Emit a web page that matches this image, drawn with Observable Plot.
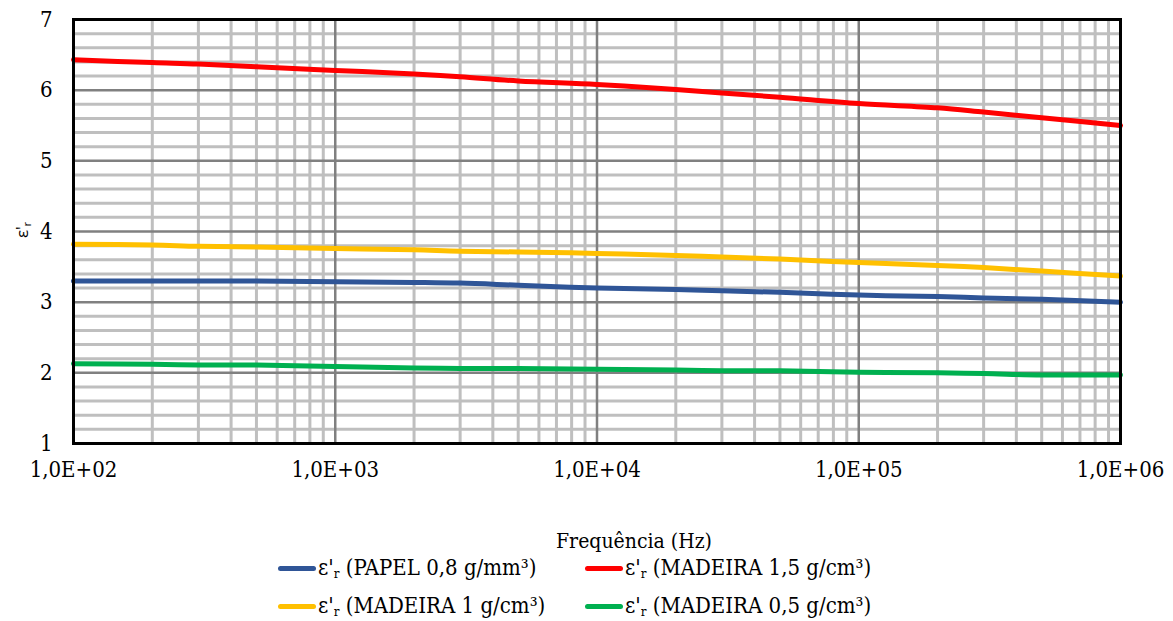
<!DOCTYPE html>
<html>
<head>
<meta charset="utf-8">
<script src="https://cdn.jsdelivr.net/npm/d3@7"></script>
<script src="https://cdn.jsdelivr.net/npm/@observablehq/plot@0.6"></script>
<style>
  html, body { margin: 0; padding: 0; background: #fff; }
  #wrap { position: relative; width: 1173px; height: 621px; font-family: "DejaVu Serif Condensed", "DejaVu Serif", serif; font-stretch: condensed; color: #000; }
  #chart { position: absolute; left: 0; top: 0; }
  #chart svg text { font-stretch: condensed; }
  .abs { position: absolute; white-space: nowrap; }
  .leg { position: absolute; display: flex; align-items: center; font-size: 22px; white-space: nowrap; height: 30px; }
  .sw { display: inline-block; width: 38px; height: 5px; border-radius: 3px; margin-right: 2px; }
  sub { font-size: 60%; vertical-align: -0.25em; }
</style>
</head>
<body>
<div id="wrap">
  <div id="chart"></div>
</div>
<script>
// ---- data ----
const freqs = [1e2, 2e2, 3e2, 5e2, 1e3, 2e3, 3e3, 5e3, 1e4, 2e4, 3e4, 5e4, 1e5, 2e5, 3e5, 5e5, 1e6];
const papel08  = [3.30, 3.30, 3.30, 3.30, 3.29, 3.28, 3.27, 3.24, 3.20, 3.18, 3.16, 3.14, 3.10, 3.08, 3.06, 3.04, 3.00];
const madeira15 = [6.43, 6.39, 6.37, 6.33, 6.28, 6.23, 6.19, 6.13, 6.08, 6.01, 5.96, 5.90, 5.81, 5.75, 5.69, 5.61, 5.50];
const madeira1  = [3.82, 3.81, 3.79, 3.78, 3.76, 3.74, 3.72, 3.71, 3.69, 3.66, 3.64, 3.61, 3.56, 3.52, 3.49, 3.44, 3.37];
const madeira05 = [2.13, 2.12, 2.11, 2.11, 2.09, 2.07, 2.06, 2.06, 2.05, 2.04, 2.03, 2.03, 2.01, 2.00, 1.99, 1.97, 1.97];

const seriesNames = ["PAPEL 0,8 g/mm³", "MADEIRA 1,5 g/cm³", "MADEIRA 1 g/cm³", "MADEIRA 0,5 g/cm³"];
const seriesColors = ["#2F5597", "#FF0000", "#FFC000", "#00B050"];
const seriesValues = [papel08, madeira15, madeira1, madeira05];

const xTicks = [1e2, 1e3, 1e4, 1e5, 1e6];
const yTicks = [1, 2, 3, 4, 5, 6, 7];
const yMinor = [1.2,1.4,1.6,1.8,2.2,2.4,2.6,2.8,3.2,3.4,3.6,3.8,4.2,4.4,4.6,4.8,5.2,5.4,5.6,5.8,6.2,6.4,6.6,6.8];
const xMinorMult = [2, 3, 4, 5, 6, 7, 8, 9];
const xMinor = [1e2, 1e3, 1e4, 1e5].flatMap(d => xMinorMult.map(m => d * m));

const xTitle = "Frequência (Hz)";

// ---- table ----
const rows = [];
seriesNames.forEach((name, i) => {
  freqs.forEach((f, j) => rows.push({ series: name, f, v: seriesValues[i][j] }));
});

const fmt = d => "1,0E+" + String(Math.round(Math.log10(d))).padStart(2, "0");
const serif = "'DejaVu Serif Condensed', 'DejaVu Serif', serif";

const plot = Plot.plot({
  width: 1173,
  height: 500,
  marginLeft: 73,
  marginRight: 53,
  marginTop: 19,
  marginBottom: 57,
  style: { fontFamily: serif, fontSize: "22px", background: "transparent", color: "#000" },
  x: { type: "log", domain: [1e2, 1e6] },
  y: { domain: [1, 7] },
  color: { domain: seriesNames, range: seriesColors },
  marks: [
    Plot.ruleY(yMinor, { stroke: "#BFBFBF", strokeWidth: 3 }),
    Plot.ruleX(xMinor, { stroke: "#BFBFBF", strokeWidth: 3 }),
    Plot.ruleY(yTicks, { stroke: "#808080", strokeWidth: 2.5 }),
    Plot.ruleX(xTicks, { stroke: "#808080", strokeWidth: 2.5 }),
    Plot.axisX({ ticks: xTicks, tickFormat: fmt, tickSize: 0, tickPadding: 18, label: null, fontFamily: serif }),
    Plot.axisY({ ticks: yTicks, tickFormat: d => String(d), tickSize: 0, tickPadding: 21, label: null, fontFamily: serif }),
    Plot.line(rows, { x: "f", y: "v", z: "series", stroke: "series", strokeWidth: 5, curve: "catmull-rom" }),
    Plot.frame({ stroke: "#000", strokeWidth: 3 })
  ]
});
document.getElementById("chart").appendChild(plot);

const wrap = document.getElementById("wrap");

// x title
const xt = document.createElement("div");
xt.className = "abs";
xt.style.cssText = "left:634px; top:541px; transform:translate(-50%,-50%); font-size:21px;";
xt.textContent = xTitle;
wrap.appendChild(xt);

// y title
const yt = document.createElement("div");
yt.className = "abs";
yt.style.cssText = "left:22px; top:230px; transform:translate(-50%,-50%) rotate(-90deg); font-family:'Open Sans',sans-serif; font-stretch:normal; font-size:17px;";
yt.innerHTML = "ε'<sub>r</sub>";
wrap.appendChild(yt);

// legend
const legPos = [[278, 568], [585, 568], [278, 606], [585, 606]];
seriesNames.forEach((name, i) => {
  const d = document.createElement("div");
  d.className = "leg";
  d.style.left = legPos[i][0] + "px";
  d.style.top = (legPos[i][1] - 15) + "px";
  d.innerHTML = `<span class="sw" style="background:${seriesColors[i]}"></span><span>ε'<sub>r</sub> (${name})</span>`;
  wrap.appendChild(d);
});
</script>
</body>
</html>
